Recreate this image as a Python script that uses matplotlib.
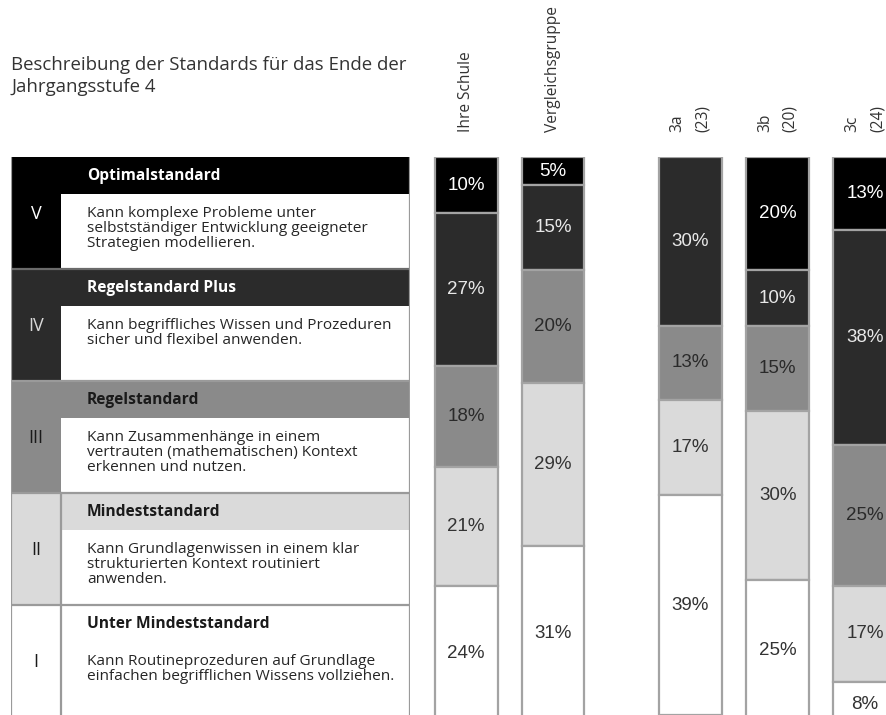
import matplotlib
matplotlib.use("Agg")
import matplotlib.pyplot as plt
from matplotlib.patches import Rectangle

# ---------------- data ----------------
groups = ["Ihre Schule", "Vergleichsgruppe", "3a\n(23)", "3b\n(20)", "3c\n(24)"]
level_names = ["V", "IV", "III", "II", "I"]
level_V = [10, 5, 0, 20, 13]
level_IV = [27, 15, 30, 10, 38]
level_III = [18, 20, 13, 15, 25]
level_II = [21, 29, 17, 30, 17]
level_I = [24, 31, 39, 25, 8]
levels = [level_V, level_IV, level_III, level_II, level_I]

level_titles = ["Optimalstandard", "Regelstandard Plus", "Regelstandard",
                "Mindeststandard", "Unter Mindeststandard"]
level_texts = [
    "Kann komplexe Probleme unter\nselbstständiger Entwicklung geeigneter\nStrategien modellieren.",
    "Kann begriffliches Wissen und Prozeduren\nsicher und flexibel anwenden.",
    "Kann Zusammenhänge in einem\nvertrauten (mathematischen) Kontext\nerkennen und nutzen.",
    "Kann Grundlagenwissen in einem klar\nstrukturierten Kontext routiniert\nanwenden.",
    "Kann Routineprozeduren auf Grundlage\neinfachen begrifflichen Wissens vollziehen.",
]
title = "Beschreibung der Standards für das Ende der\nJahrgangsstufe 4"

# ---------------- style ----------------
fills = ["#000000", "#2b2b2b", "#8a8a8a", "#dadada", "#ffffff"]
band_fills = ["#000000", "#2b2b2b", "#8a8a8a", "#dadada", "#ffffff"]
lbl_colors = ["#ffffff", "#e8e8e8", "#2a2a2a", "#333333", "#333333"]
num_colors = ["#ffffff", "#d8d8d8", "#1a1a1a", "#1a1a1a", "#1a1a1a"]
edge = "#a3a3a3"
FONT = "Open Sans"

W, H = 886, 715
fig = plt.figure(figsize=(W / 100, H / 100), dpi=100)

def fx(px):
    return px / W

def fy(py):
    return 1 - py / H

# ---------------- title ----------------
fig.text(fx(11), fy(92), title, family=FONT, fontsize=13.4, color="#333333",
         ha="left", va="baseline", linespacing=1.3)

# ---------------- bars ----------------
positions = [0, 1, 2.575, 3.585, 4.586]
bar_w = 0.724
top_px, scale = 157, 5.64
ax = fig.add_axes([fx(420), fy(top_px + 100 * scale), fx(886) - fx(420),
                   fy(top_px) - fy(top_px + 100 * scale)])
ax.set_xlim(-0.529, 4.828)
ax.set_ylim(0, 100)
ax.axis("off")

tops = [100.0] * len(groups)
for li, vals in enumerate(levels):
    bottoms = [t - v for t, v in zip(tops, vals)]
    ax.bar(positions, vals, bottom=bottoms, width=bar_w, color=fills[li],
           edgecolor=edge, linewidth=1.6)
    for x, b, v in zip(positions, bottoms, vals):
        if v > 0:
            ax.text(x, b + v / 2, f"{v}%", ha="center", va="center",
                    family="Liberation Sans", fontsize=13.5, color=lbl_colors[li])
    tops = bottoms

for x, g in zip(positions, groups):
    ax.text(x, 100 + 25 / scale, g, rotation=90, ha="center", va="bottom",
            multialignment="left", family=FONT, fontsize=11.2, color="#333333",
            clip_on=False, linespacing=1.75)

# ---------------- description table ----------------
tl, tr, row_px = 11, 410, 112
tax = fig.add_axes([fx(tl), fy(top_px + 5 * row_px), fx(tr) - fx(tl),
                    fy(top_px) - fy(top_px + 5 * row_px)])
tw = tr - tl
tax.set_xlim(0, tw)
tax.set_ylim(5, 0)
tax.axis("off")

num_w = 50
band_h = 37 / row_px
for i in range(5):
    tax.add_patch(Rectangle((0, i), tw, 1, facecolor="white", edgecolor="none"))
    tax.add_patch(Rectangle((0, i), num_w, 1, facecolor=band_fills[i], edgecolor="none"))
    tax.add_patch(Rectangle((num_w, i), tw - num_w, band_h, facecolor=band_fills[i],
                            edgecolor="none"))
    tax.text(num_w / 2, i + 0.51, level_names[i], ha="center", va="center",
             family=FONT, fontsize=13, color=num_colors[i])
    tax.text(76, i + band_h / 2, level_titles[i], ha="left", va="center",
             family=FONT, fontweight="bold", fontsize=11.2,
             color="#ffffff" if i < 2 else "#1a1a1a")
    tax.text(76, i + 0.44, level_texts[i], ha="left", va="top",
             family=FONT, fontsize=11.1, color="#262626", linespacing=0.98)

for i in range(1, 5):
    tax.plot([0, tw], [i, i], color="#9a9a9a" if i > 1 else "#6a6a6a", lw=1.6,
             solid_capstyle="butt")
tax.plot([0, 0], [0, 5], color="#9a9a9a", lw=1.6)
tax.plot([tw, tw], [0, 5], color="#9a9a9a", lw=1.6)
tax.plot([num_w, num_w], [3, 5], color="#9a9a9a", lw=1.6)

fig.savefig("out.png", dpi=100)
